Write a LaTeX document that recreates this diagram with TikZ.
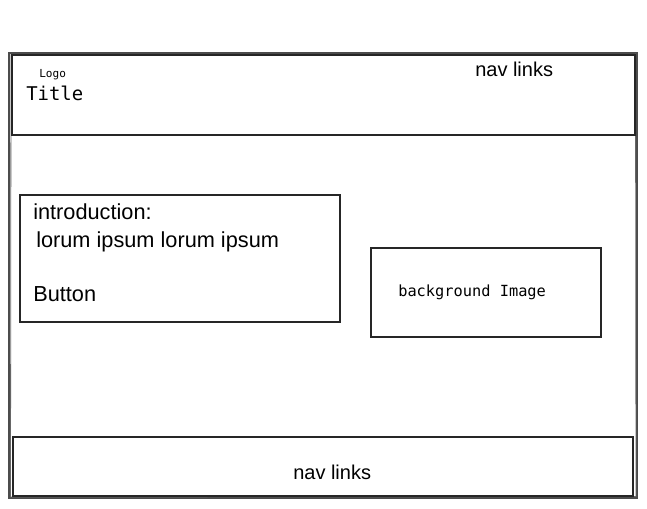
\documentclass[tikz,border=0pt]{standalone}
\usepackage{fontspec}
\setmainfont{Liberation Sans}
\newfontfamily\sketchmono{DejaVu Sans Mono}

\begin{document}
\begin{tikzpicture}[x=0.75pt, y=-0.75pt,
    box/.style={draw=black!85, line width=0.85pt},
    label/.style={anchor=base west, inner sep=0pt, font=\fontsize{16.3}{19}\selectfont},
    monolabel/.style={anchor=base west, inner sep=0pt}]
    \useasboundingbox (0, 0) rectangle (647, 508);
    \draw [black!70, line width=0.8pt] (9, 53) rectangle (637, 498);
    \draw [black!60, line width=0.6pt] (11, 54) -- (10.5, 497) -- (636, 496.5) -- (635.5, 53.5);
    \draw [box] (12, 55) rectangle (635, 135);
    \draw [box] (13, 437) rectangle (633, 496);
    \draw [box] (20, 195) rectangle (340, 322);
    \draw [box] (371, 248) rectangle (601, 337);
    \node [monolabel, font=\sketchmono\fontsize{8.3}{10}\selectfont] (logo) at (39, 77) {Logo};
    \node [monolabel, font=\sketchmono\fontsize{14.2}{17}\selectfont] (title) at (26, 100) {Title};
    \node [label, font=\fontsize{15}{18}\selectfont] (navtop) at (475, 76) {nav links};
    \node [label] (intro) at (33, 219) {introduction:};
    \node [label] (lorum) at (36, 247) {lorum ipsum lorum ipsum};
    \node [label] (button) at (33, 301) {Button};
    \node [monolabel, font=\sketchmono\fontsize{11.5}{14}\selectfont] (bgimage) at (398, 296) {background Image};
    \node [label, font=\fontsize{15}{18}\selectfont] (navbottom) at (293, 479) {nav links};
\end{tikzpicture}
\end{document}
